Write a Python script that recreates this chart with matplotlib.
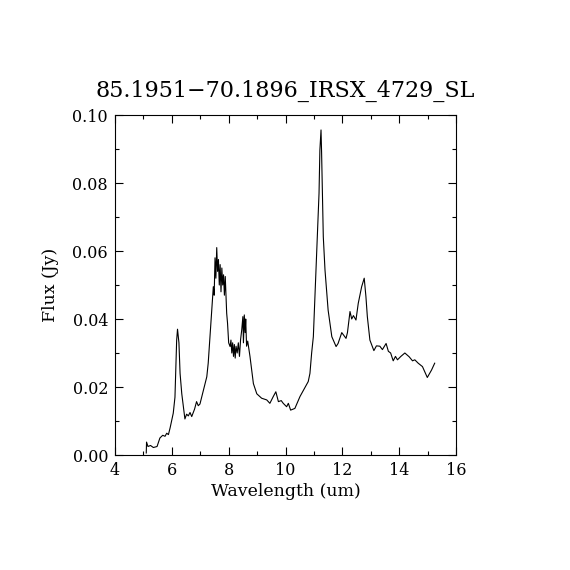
import matplotlib
matplotlib.use("Agg")
import matplotlib.pyplot as plt
from matplotlib.ticker import MultipleLocator

wavelength = [5.10, 5.11, 5.16, 5.25, 5.35, 5.48, 5.58, 5.68, 5.76, 5.82, 5.88, 5.94, 6.05, 6.11,
              6.17, 6.20, 6.25, 6.29, 6.35, 6.46, 6.52, 6.58, 6.64, 6.70, 6.80, 6.87, 6.93, 6.99,
              7.11, 7.23, 7.28, 7.40, 7.46, 7.49, 7.52, 7.55, 7.58, 7.61, 7.64, 7.67, 7.70, 7.73,
              7.76, 7.79, 7.82, 7.85, 7.88, 7.93, 7.96, 8.00, 8.05, 8.08, 8.11, 8.14, 8.17, 8.20,
              8.23, 8.26, 8.30, 8.34, 8.38, 8.42, 8.46, 8.50, 8.52, 8.55, 8.58, 8.60, 8.63, 8.67,
              8.75, 8.87, 8.99, 9.16, 9.34, 9.45, 9.57, 9.66, 9.75, 9.85, 9.92, 10.04, 10.10,
              10.18, 10.33, 10.51, 10.63, 10.80, 10.86, 10.92, 10.98, 11.10, 11.18, 11.21, 11.25,
              11.27, 11.33, 11.39, 11.50, 11.63, 11.78, 11.85, 11.98, 12.13, 12.18, 12.27, 12.33,
              12.39, 12.48, 12.56, 12.68, 12.77, 12.83, 12.88, 12.97, 13.11, 13.20, 13.32, 13.41,
              13.54, 13.62, 13.70, 13.79, 13.87, 13.94, 14.06, 14.20, 14.35, 14.47, 14.55, 14.67,
              14.82, 14.99, 15.14, 15.25]
flux = [0.0006, 0.0038, 0.0025, 0.0028, 0.0022, 0.0025, 0.0050, 0.0058, 0.0055, 0.0064, 0.0060,
        0.0080, 0.0123, 0.0170, 0.0338, 0.0370, 0.0330, 0.0240, 0.0180, 0.0106, 0.0120, 0.0115,
        0.0125, 0.0113, 0.0135, 0.0157, 0.0145, 0.0150, 0.0190, 0.0230, 0.0270, 0.0417, 0.0495,
        0.0470, 0.0580, 0.0520, 0.0610, 0.0540, 0.0575, 0.0500, 0.0560, 0.0480, 0.0550, 0.0500,
        0.0530, 0.0470, 0.0525, 0.0417, 0.0388, 0.0330, 0.0319, 0.0338, 0.0300, 0.0330, 0.0290,
        0.0325, 0.0285, 0.0320, 0.0300, 0.0330, 0.0290, 0.0340, 0.0368, 0.0407, 0.0330, 0.0412,
        0.0360, 0.0400, 0.0320, 0.0335, 0.0290, 0.0210, 0.0180, 0.0167, 0.0162, 0.0152, 0.0172,
        0.0186, 0.0157, 0.0160, 0.0152, 0.0142, 0.0152, 0.0132, 0.0137, 0.0172, 0.0190, 0.0216,
        0.0240, 0.0300, 0.0348, 0.0603, 0.0770, 0.0897, 0.0956, 0.0890, 0.0642, 0.0544, 0.0426,
        0.0348, 0.0319, 0.0328, 0.0360, 0.0343, 0.0360, 0.0422, 0.0400, 0.0410, 0.0397, 0.0446,
        0.0495, 0.0520, 0.0466, 0.0407, 0.0338, 0.0307, 0.0321, 0.0320, 0.0310, 0.0328, 0.0305,
        0.0300, 0.0277, 0.0290, 0.0280, 0.0290, 0.0300, 0.0289, 0.0277, 0.0280, 0.0270, 0.0260,
        0.0228, 0.0250, 0.0270]

title = "85.1951\u221270.1896_IRSX_4729_SL"
xlabel = "Wavelength (um)"
ylabel = "Flux (Jy)"

plt.rcParams['font.family'] = ['DejaVu Serif']
fig = plt.figure(figsize=(5.7, 5.7), dpi=100)
ax = fig.add_axes([115/570, 115/570, 341/570, 340/570])
ax.plot(wavelength, flux, color='black', linewidth=0.8)
ax.set_xlim(4, 16)
ax.set_ylim(0, 0.10)
ax.xaxis.set_major_locator(MultipleLocator(2))
ax.xaxis.set_minor_locator(MultipleLocator(1))
ax.yaxis.set_major_locator(MultipleLocator(0.02))
ax.yaxis.set_minor_locator(MultipleLocator(0.01))
ax.yaxis.set_major_formatter(plt.FuncFormatter(lambda v, p: f"{v:.2f}"))
ax.tick_params(which='both', direction='in', top=True, right=True, labelsize=11.5, width=0.8)
ax.tick_params(which='major', length=6)
ax.tick_params(which='minor', length=3)
ax.tick_params(axis='x', which='major', pad=5)
ax.tick_params(axis='y', which='major', pad=5)
for s in ax.spines.values():
    s.set_linewidth(0.8)
ax.set_xlabel(xlabel, fontsize=12.5, labelpad=3)
ax.set_ylabel(ylabel, fontsize=12.5, labelpad=10)
ax.set_title(title, fontsize=16, pad=13)
fig.savefig("out.png", dpi=100, facecolor='white')
